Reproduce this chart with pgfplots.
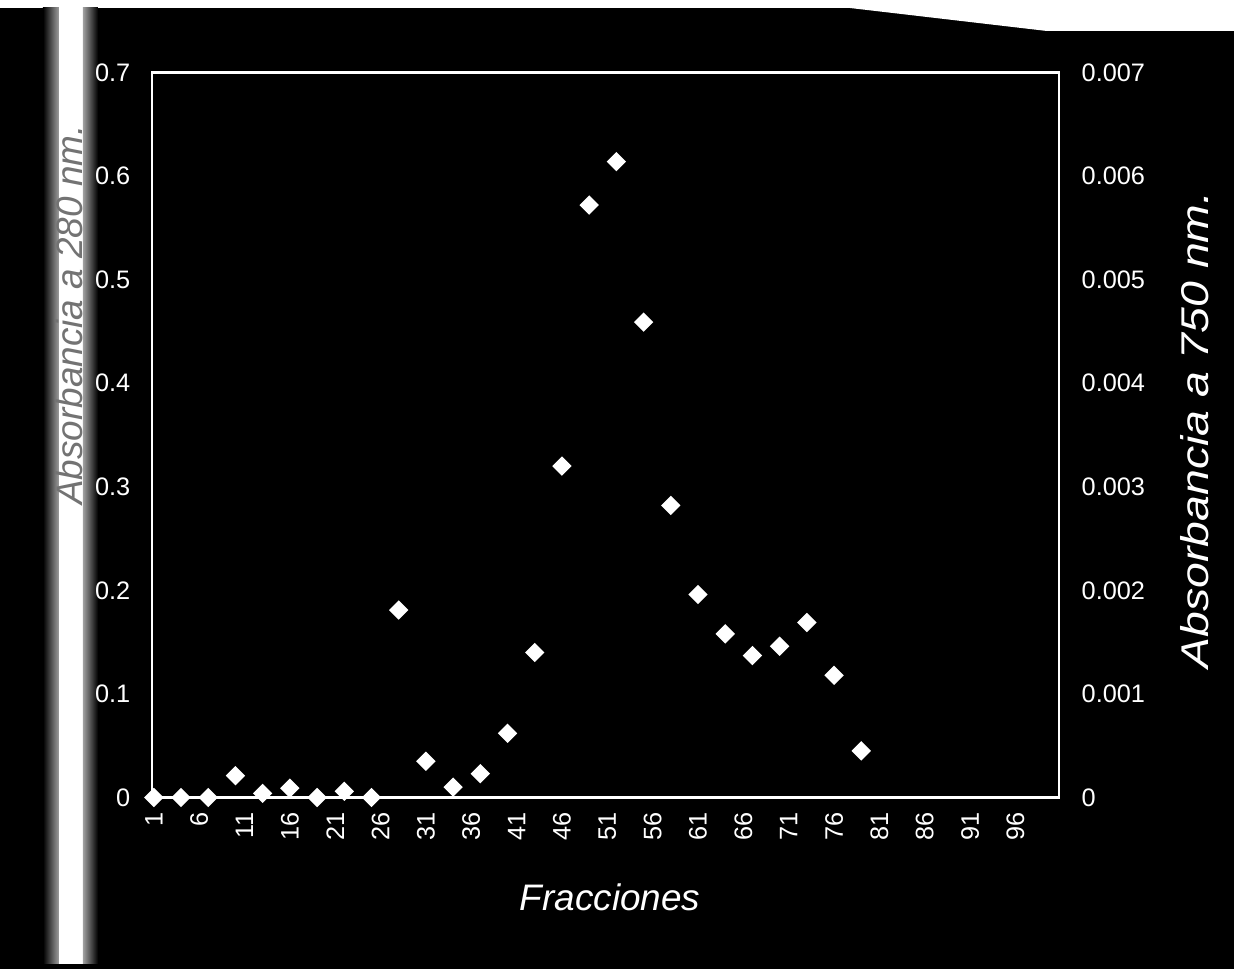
\documentclass[border=0pt]{standalone}
\usepackage{pgfplots}
\pgfplotsset{compat=1.18}
\usepackage{fontspec}
\setmainfont{Liberation Sans}

\begin{document}
\begin{tikzpicture}
% page: black scan with a white strip at the top
\fill[black] (0mm,0mm) rectangle (123.4mm,96.9mm);
\fill[white] (0mm,96.9mm) -- (123.4mm,96.9mm) -- (123.4mm,93.8mm) -- (104.7mm,93.8mm)
  -- (85mm,96.1mm) -- (0mm,96.1mm) -- cycle;
% light band on the left where the first y label sits
\shade[left color=black, right color=gray!75] (4.3mm,0.5mm) rectangle (5.9mm,96.1mm);
\fill[white] (5.9mm,0.5mm) rectangle (8.3mm,96.1mm);
\shade[left color=gray!75, right color=black] (8.3mm,0.5mm) rectangle (9.8mm,96.1mm);

\begin{axis}[
    at={(15.2mm,17.15mm)}, anchor=south west,
    scale only axis, width=90.7mm, height=72.5mm,
    xmin=0.8, xmax=100.8, ymin=0, ymax=0.7,
    axis line style={white, line width=0.8pt},
    xtick={1,6,...,96},
    xtick pos=bottom, ytick pos=left,
    xticklabel style={rotate=90, anchor=east, inner sep=1.4mm},
    ytick={0,0.1,0.2,0.3,0.4,0.5,0.6,0.7},
    yticklabel style={/pgf/number format/fixed, /pgf/number format/precision=1, inner sep=2.1mm},
    tick label style={white, font=\fontsize{7.2}{8}\selectfont},
    /pgf/number format/assume math mode=true,
    major tick length=0pt,
    clip=false,
]
\addplot[only marks, mark=square*, mark size=1.75pt,
    mark options={rotate=45, draw=white, fill=white}] coordinates {
    (1, 0) (4, 0) (7, 0) (10, 0.021) (13, 0.004) (16, 0.009)
    (19, 0) (22, 0.006) (25, 0) (28, 0.181) (31, 0.035) (34, 0.010)
    (37, 0.023) (40, 0.062) (43, 0.140) (46, 0.320) (49, 0.572) (52, 0.614)
    (55, 0.459) (58, 0.282) (61, 0.196) (64, 0.158) (67, 0.137) (70, 0.146)
    (73, 0.169) (76, 0.118) (79, 0.045)
};
\end{axis}

\begin{axis}[
    at={(15.2mm,17.15mm)}, anchor=south west,
    scale only axis, width=90.7mm, height=72.5mm,
    xmin=0.8, xmax=100.8, ymin=0, ymax=0.007,
    axis y line*=right, axis x line=none,
    axis line style={white, line width=0.8pt},
    ytick={0,0.001,0.002,0.003,0.004,0.005,0.006,0.007},
    scaled y ticks=false,
    yticklabel style={/pgf/number format/fixed, /pgf/number format/precision=3,
        white, font=\fontsize{7.2}{8}\selectfont, inner sep=2.2mm},
    /pgf/number format/assume math mode=true,
    major tick length=0pt,
]
\addplot[draw=none] coordinates {(1,0)};
\end{axis}

\node[white, font=\fontsize{10.5}{12}\selectfont\itshape] at (61mm,7.2mm) {Fracciones};
\node[white, rotate=90] at (119.5mm,53.9mm)
    {\scalebox{1.2}[1]{\fontsize{11}{13}\selectfont\itshape Absorbancia a 750 nm.}};
\node[black!55, rotate=90] at (6.9mm,65.4mm)
    {\fontsize{10.5}{12}\selectfont\itshape Absorbancia a 280 nm.};
\end{tikzpicture}
\end{document}
